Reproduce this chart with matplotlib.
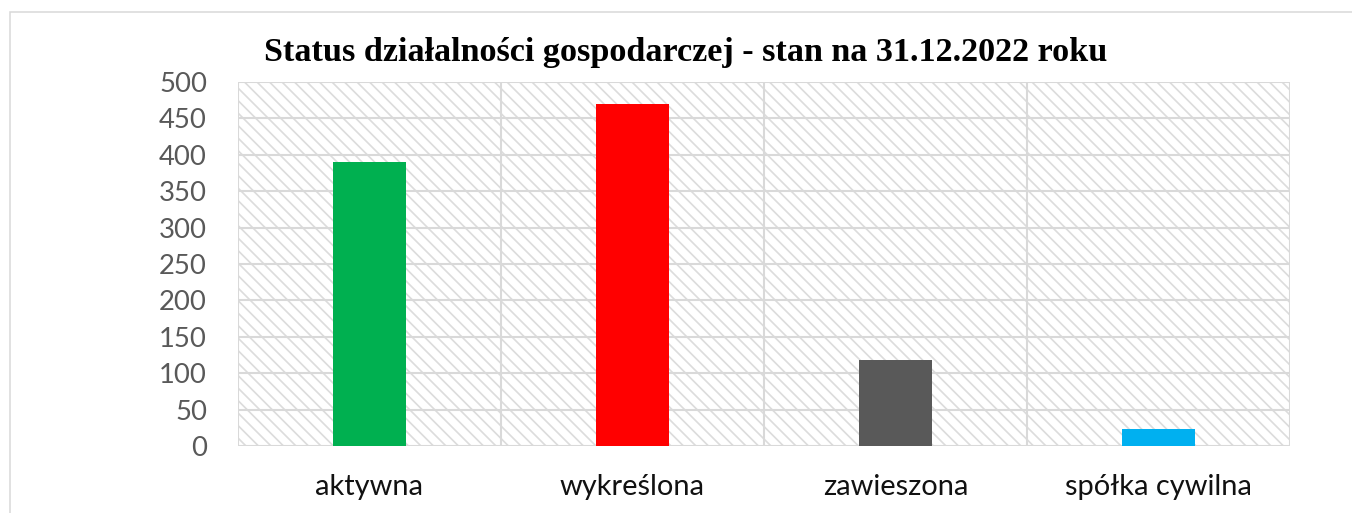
import matplotlib
matplotlib.use("Agg")
import matplotlib.pyplot as plt
from matplotlib.patches import Rectangle

categories = ["aktywna", "wykreślona", "zawieszona", "spółka cywilna"]
values = [390, 470, 118, 23]
colors = ["#00B050", "#FF0000", "#595959", "#00B0F0"]
yticks = [0, 50, 100, 150, 200, 250, 300, 350, 400, 450, 500]
title = "Status działalności gospodarczej - stan na 31.12.2022 roku"

DPI = 75
W, H = 1352, 513
PT = 72 / DPI
plt.rcParams['hatch.color'] = '#dcdcdc'
plt.rcParams['hatch.linewidth'] = 1.6

fig = plt.figure(figsize=(W / DPI, H / DPI), dpi=DPI)
fig.patches.append(Rectangle((10 / W, -0.1), 1.2, (513 - 12) / H + 0.1,
                             transform=fig.transFigure, fill=False,
                             edgecolor='#d9d9d9', linewidth=1.5))

ax = fig.add_axes([238 / W, (H - 446) / H, 1052 / W, 364 / H])
ax.set_xlim(-0.5, len(categories) - 0.5)
ax.set_ylim(0, 500)

bg = Rectangle((0, 0), 1, 1, transform=ax.transAxes, facecolor='white',
               edgecolor='#dcdcdc', hatch='\\\\', linewidth=0, zorder=0)
ax.add_patch(bg)

for y in yticks:
    ax.axhline(y, color='#d9d9d9', linewidth=2, zorder=1)
for i in range(len(categories) + 1):
    ax.axvline(i - 0.5, color='#d9d9d9', linewidth=2, zorder=1)

x = list(range(len(categories)))
ax.bar(x, values, width=0.274, color=colors, zorder=3)

for s in ax.spines.values():
    s.set_visible(False)
ax.set_yticks(yticks)
ax.set_yticklabels([str(v) for v in yticks], fontsize=27.5 * PT,
                   color='#595959', family='Lato')
ax.set_xticks(x)
ax.set_xticklabels(categories, fontsize=29 * PT, color='#111111', family='Lato')
ax.tick_params(axis='both', length=0)
ax.tick_params(axis='y', pad=31 * PT)
ax.tick_params(axis='x', pad=28 * PT)

t = fig.text(686 / W, (H - 52) / H, title, ha='center', va='center',
             fontsize=30 * PT, fontweight='bold', family='Liberation Serif')
fig.canvas.draw()
w = t.get_window_extent().width
t.set_fontsize(30 * PT * 845 / w)

fig.savefig("out.png", dpi=DPI)
